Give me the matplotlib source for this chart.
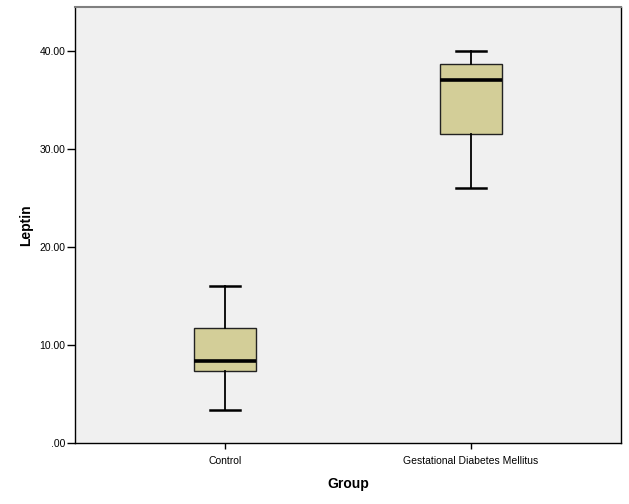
import matplotlib
matplotlib.use("Agg")
import matplotlib.pyplot as plt

categories = ["Control", "Gestational Diabetes Mellitus"]
whisker_low = [3.42, 26.04]
q1 = [7.34, 31.51]
median = [8.39, 37.01]
q3 = [11.75, 38.61]
whisker_high = [16.03, 40.0]
yticks = [0, 10, 20, 30, 40]
ytick_labels = [".00", "10.00", "20.00", "30.00", "40.00"]

plt.rcParams['font.family'] = ['Liberation Sans', 'DejaVu Sans']

fig = plt.figure(figsize=(6.29, 5.04), dpi=100)
ax = fig.add_axes([75.3 / 629, 1 - 443.3 / 504, (620.7 - 75.3) / 629, (443.3 - 6.7) / 504])
ax.set_facecolor("#F0F0F0")

stats = []
for i, c in enumerate(categories):
    stats.append(dict(label=c, whislo=whisker_low[i], q1=q1[i], med=median[i],
                      q3=q3[i], whishi=whisker_high[i], fliers=[]))

positions = [1, 2]
ax.bxp(stats, positions=positions, widths=0.25, patch_artist=True, showfliers=False,
       boxprops=dict(facecolor="#D3CE98", edgecolor="#222222", linewidth=1.0),
       medianprops=dict(color="black", linewidth=2.6, solid_capstyle="butt"),
       whiskerprops=dict(color="black", linewidth=1.3),
       capprops=dict(color="black", linewidth=1.8),
       capwidths=0.122)

ax.set_xlim(0.39, 2.61)
ax.set_ylim(0, 44.48)
ax.set_yticks(yticks)
ax.set_yticklabels(ytick_labels)
ax.set_xticks(positions)
ax.set_xticklabels(categories)
ax.tick_params(axis="both", direction="out", width=1, labelsize=7.5, colors="black")
ax.tick_params(axis="x", length=4, pad=5)
ax.tick_params(axis="y", length=6, pad=1)

for s in ["left", "bottom", "right"]:
    ax.spines[s].set_color("black")
    ax.spines[s].set_linewidth(1.0)
ax.spines["top"].set_color("#808080")
ax.spines["top"].set_linewidth(1.5)

ax.set_ylabel("Leptin", fontsize=10, fontweight="bold", labelpad=5)
ax.set_xlabel("Group", fontsize=10, fontweight="bold", labelpad=8)

fig.savefig("out.png", dpi=100, facecolor="white")
